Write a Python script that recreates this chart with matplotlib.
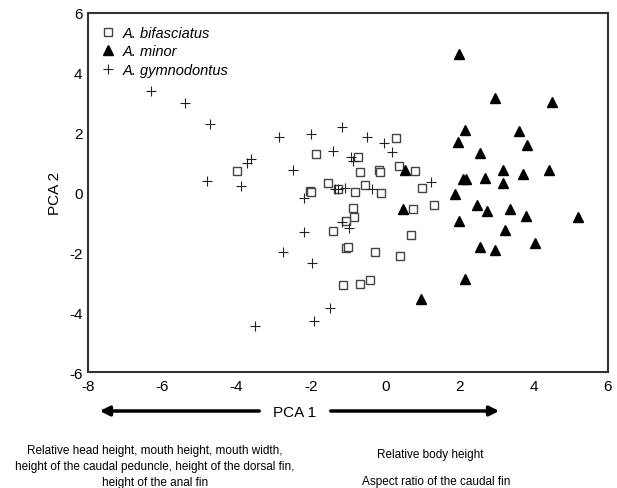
import matplotlib.pyplot as plt

plt.rcParams['font.family'] = ['Liberation Sans', 'DejaVu Sans']
plt.rcParams['axes.unicode_minus'] = False

# A. bifasciatus (open squares)
bif_x = [0.29, -1.87, -0.72, -0.69, -0.17, -0.13, 0.36, 0.80, 1.00, -2.03, -2.00,
         -1.54, -1.27, -0.80, -0.53, -0.10, 0.74, 1.31, -0.86, -0.83, -1.40, -1.05,
         -1.00, 0.70, -0.26, 0.40, -1.14, -0.69, -0.40, -4.00, -1.05]
bif_y = [1.81, 1.28, 1.20, 0.70, 0.75, 0.68, 0.90, 0.73, 0.15, 0.06, 0.00,
         0.33, 0.12, 0.03, 0.25, -0.02, -0.55, -0.43, -0.51, -0.83, -1.30, -1.86,
         -1.83, -1.41, -2.00, -2.11, -3.09, -3.07, -2.92, 0.71, -0.95]

# A. minor (filled triangles)
min_x = [2.00, 2.96, 4.50, 2.16, 1.96, 3.61, 3.83, 2.55, 3.16, 3.72, 4.42, 2.10,
         2.19, 2.69, 3.16, 0.54, 1.89, 2.46, 2.75, 3.35, 0.49, 3.79, 5.19, 2.00,
         3.23, 4.04, 2.56, 2.96, 2.16, 0.97]
min_y = [4.63, 3.15, 3.02, 2.10, 1.70, 2.05, 1.59, 1.32, 0.74, 0.63, 0.74, 0.45,
         0.45, 0.49, 0.33, 0.74, -0.04, -0.42, -0.62, -0.55, -0.55, -0.80, -0.83,
         -0.95, -1.24, -1.70, -1.83, -1.91, -2.90, -3.56]

# A. gymnodontus (plus)
gym_x = [-6.30, -5.38, -4.72, -4.80, -3.89, -2.85, -3.61, -3.73, -2.47, -2.18,
         -2.18, -2.74, -1.98, -1.48, -1.91, -3.50, -1.41, -2.00, -1.17, -0.48,
         -0.03, 0.18, -0.92, -0.86, -1.35, -1.26, -1.08, -0.36, 1.24, -1.17, -0.97]
gym_y = [3.38, 2.98, 2.28, 0.37, 0.21, 1.84, 1.12, 0.98, 0.75, -0.19,
         -1.33, -1.98, -2.37, -3.86, -4.30, -4.47, 1.40, 1.96, 2.18, 1.84,
         1.64, 1.34, 1.20, 1.06, 0.12, 0.12, 0.15, 0.12, 0.34, -1.00, -1.20]

fig = plt.figure(figsize=(6.17, 4.89), dpi=100)
ax = fig.add_axes([0.1426, 0.2372, 0.8428, 0.7342])

ax.plot(bif_x, bif_y, 's', ms=5.5, mfc='white', mec='#444444', mew=1.0,
        linestyle='none', label='A. bifasciatus')
ax.plot(min_x, min_y, '^', ms=6.5, color='black', linestyle='none', label='A. minor')
ax.plot(gym_x, gym_y, '+', ms=6.5, color='#222222', mew=0.8, linestyle='none',
        label='A. gymnodontus')

ax.set_xlim(-8, 6)
ax.set_ylim(-6, 6)
ax.set_xticks(range(-8, 7, 2))
ax.set_yticks(range(-6, 7, 2))
ax.tick_params(length=0, labelsize=11)
ax.tick_params(axis='y', pad=4)
ax.tick_params(axis='x', pad=5)
for s in ax.spines.values():
    s.set_linewidth(1.5)
    s.set_color('#333333')

ax.set_ylabel('PCA 2', fontsize=11, labelpad=5)

leg = ax.legend(loc='upper left', frameon=False, fontsize=10.5, handletextpad=0.5,
                borderaxespad=0.3, labelspacing=0.3, handlelength=1.0,
                borderpad=0.6)
for t in leg.get_texts():
    t.set_style('italic')

# PCA 1 label with arrows
fig.text(295 / 617, 1 - 413 / 489, 'PCA 1', ha='center', va='center', fontsize=11)
ax.annotate('', xy=(97 / 617, 1 - 412 / 489), xytext=(262 / 617, 1 - 412 / 489),
            xycoords='figure fraction', textcoords='figure fraction',
            arrowprops=dict(arrowstyle='-|>', lw=2.5, color='black', mutation_scale=14))
ax.annotate('', xy=(502 / 617, 1 - 412 / 489), xytext=(328 / 617, 1 - 412 / 489),
            xycoords='figure fraction', textcoords='figure fraction',
            arrowprops=dict(arrowstyle='-|>', lw=2.5, color='black', mutation_scale=14))

fig.text(155 / 617, 1 - 467 / 489,
         'Relative head height, mouth height, mouth width,\n'
         'height of the caudal peduncle, height of the dorsal fin,\n'
         'height of the anal fin',
         ha='center', va='center', fontsize=8.5, linespacing=1.4)
fig.text(430 / 617, 1 - 455 / 489, 'Relative body height',
         ha='center', va='center', fontsize=8.5)
fig.text(436 / 617, 1 - 482 / 489, 'Aspect ratio of the caudal fin',
         ha='center', va='center', fontsize=8.5)

fig.savefig('out.png', dpi=100)
